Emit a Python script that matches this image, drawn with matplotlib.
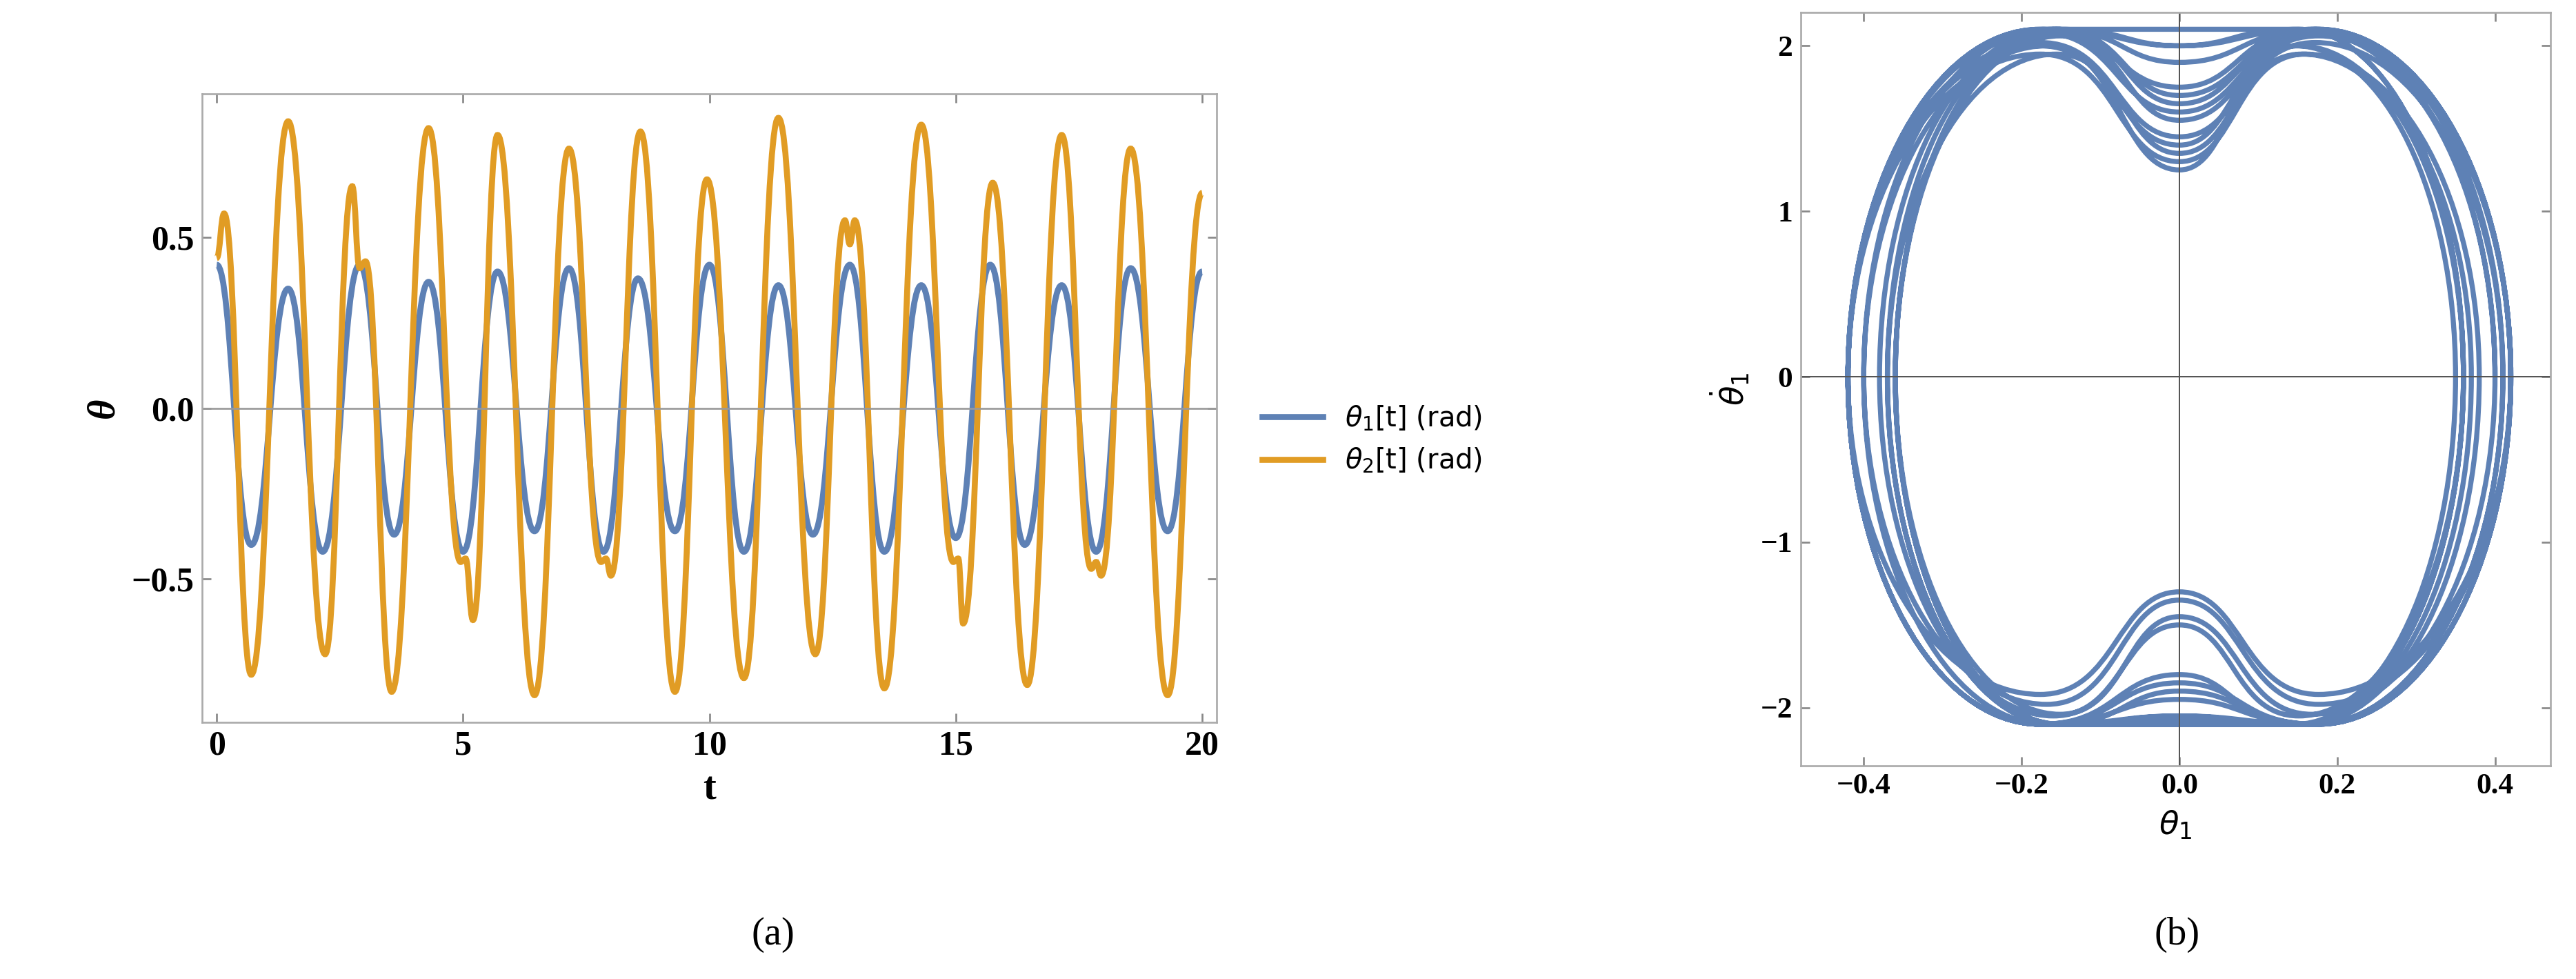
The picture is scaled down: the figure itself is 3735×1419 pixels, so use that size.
import matplotlib
matplotlib.use("Agg")
import matplotlib.pyplot as plt
from matplotlib.path import Path
from matplotlib.patches import PathPatch

# ---- data ----
th1_t = [0,0.7,1.45,2.15,2.9,3.6,4.3,5.0,5.7,6.45,7.15,7.85,8.55,9.3,10.0,10.7,11.4,12.1,12.85,13.55,14.3,15.0,15.7,16.4,17.15,17.85,18.55,19.3,20.0]
th1_v = [0.42,-0.40,0.35,-0.42,0.42,-0.37,0.37,-0.42,0.40,-0.36,0.41,-0.42,0.38,-0.36,0.42,-0.42,0.36,-0.37,0.42,-0.42,0.36,-0.38,0.42,-0.40,0.36,-0.42,0.41,-0.36,0.40]
th2_t = [0,0.15,0.7,1.45,2.2,2.75,2.9,3.02,3.55,4.3,4.95,5.05,5.2,5.7,6.45,7.15,7.8,7.9,8.0,8.6,9.3,9.95,10.7,11.4,12.15,12.75,12.85,12.95,13.55,14.3,14.95,15.05,15.15,15.75,16.45,17.15,17.75,17.85,17.95,18.55,19.3,20.0]
th2_v = [0.44,0.57,-0.78,0.84,-0.72,0.65,0.41,0.43,-0.83,0.82,-0.45,-0.44,-0.62,0.80,-0.84,0.76,-0.45,-0.44,-0.49,0.81,-0.83,0.67,-0.79,0.85,-0.72,0.55,0.48,0.55,-0.82,0.83,-0.45,-0.44,-0.63,0.66,-0.81,0.80,-0.47,-0.45,-0.49,0.76,-0.84,0.63]
# speed of theta1 at each zero crossing and peak speed per half swing (phase portrait)
cross_speed = [2.05,1.25,2.1,1.6,1.9,1.35,2.08,1.75,1.45,2.0,1.85,1.3,2.1,1.55,1.95,1.4,2.05,1.7,1.3,2.1,1.5,1.9,1.35,2.0,1.8,1.45,2.1,1.65]
peak_speed = [2.1,2.0,2.1,2.08,2.1,1.95,2.1,2.1,2.04,2.1,2.1,1.95,2.1,2.06,2.1,2.0,2.1,2.1,1.92,2.1,2.05,2.1,1.98,2.1,2.1,2.02,2.1,2.08]

BLUE = "#5e81b5"
ORANGE = "#e19c24"

def smooth_path(ts, vs):
    verts = [(ts[0], vs[0])]
    codes = [Path.MOVETO]
    for i in range(len(ts) - 1):
        t0, t1 = ts[i], ts[i + 1]
        d = (t1 - t0) * 0.45
        verts += [(t0 + d, vs[i]), (t1 - d, vs[i + 1]), (t1, vs[i + 1])]
        codes += [Path.CURVE4] * 3
    return Path(verts, codes)

def phase_path(ext, speeds, peaks):
    k = 0.55
    verts = [(ext[0], 0)]
    codes = [Path.MOVETO]
    for i in range(len(ext) - 1):
        a, b = ext[i], ext[i + 1]
        s = -1 if a > 0 else 1
        v0 = s * speeds[i]
        vp = s * max(peaks[i], speeds[i])
        pa, pb = 0.42 * a, 0.42 * b
        verts += [(a, k * vp), (pa + k * (a - pa), vp), (pa, vp)]
        verts += [(pa * 0.45, vp), (pa * 0.45, v0), (0, v0)]
        verts += [(pb * 0.45, v0), (pb * 0.45, vp), (pb, vp)]
        verts += [(pb + k * (b - pb), vp), (b, k * vp), (b, 0)]
        codes += [Path.CURVE4] * 12
    return Path(verts, codes)

fig = plt.figure(figsize=(3735 / 240, 1419 / 240), dpi=240)
serif = "Liberation Serif"

ax = fig.add_axes([0.0784, 0.262, 0.394, 0.642])
ax.set_xlim(-0.3, 20.3)
ax.set_ylim(-0.92, 0.92)
ax.axhline(0, color="#999999", lw=0.8)
ax.add_patch(PathPatch(smooth_path(th1_t, th1_v), fc="none", ec=BLUE, lw=2.6))
ax.add_patch(PathPatch(smooth_path(th2_t, th2_v), fc="none", ec=ORANGE, lw=2.6))
ax.plot([], [], color=BLUE, lw=2.6, label=r"$\theta_1$[t] (rad)")
ax.plot([], [], color=ORANGE, lw=2.6, label=r"$\theta_2$[t] (rad)")
ax.set_xticks([0, 5, 10, 15, 20])
ax.set_yticks([-0.5, 0.0, 0.5])
ax.set_yticklabels(["\u22120.5", "0.0", "0.5"])
ax.set_xlabel("t", fontfamily=serif, fontweight="bold", fontsize=17)
ax.set_ylabel("θ", fontfamily=serif, fontweight="bold", fontsize=17, style="italic")
for lab in ax.get_xticklabels() + ax.get_yticklabels():
    lab.set_fontfamily(serif); lab.set_fontweight("bold"); lab.set_fontsize(15)
ax.legend(loc="center left", bbox_to_anchor=(1.02, 0.45), frameon=False, fontsize=12, handlelength=2.2)
fig.text(0.30, 0.045, "(a)", ha="center", va="center", fontfamily=serif, fontsize=17)

bx = fig.add_axes([0.699, 0.218, 0.291, 0.769])
bx.set_xlim(-0.48, 0.47)
bx.set_ylim(-2.35, 2.2)
bx.axhline(0, color="#555555", lw=0.6)
bx.axvline(0, color="#555555", lw=0.6)
bx.add_patch(PathPatch(phase_path(th1_v, cross_speed, peak_speed), fc="none", ec=BLUE, lw=2.2))
bx.set_xticks([-0.4, -0.2, 0.0, 0.2, 0.4])
bx.set_xticklabels(["\u22120.4", "\u22120.2", "0.0", "0.2", "0.4"])
bx.set_yticks([-2, -1, 0, 1, 2])
bx.set_yticklabels(["\u22122", "\u22121", "0", "1", "2"])
for lab in bx.get_xticklabels() + bx.get_yticklabels():
    lab.set_fontfamily(serif); lab.set_fontweight("bold"); lab.set_fontsize(13)
bx.set_xlabel(r"$\theta_1$", fontsize=14)
bx.set_ylabel(r"$\dot{\theta}_1$", fontsize=14)
fig.text(0.845, 0.045, "(b)", ha="center", va="center", fontfamily=serif, fontsize=17)

for a in (ax, bx):
    a.tick_params(direction="in", length=4, color="#888888", top=True, right=True)
    for s in a.spines.values():
        s.set_color("#aaaaaa")

fig.savefig("out.png", dpi=240)
